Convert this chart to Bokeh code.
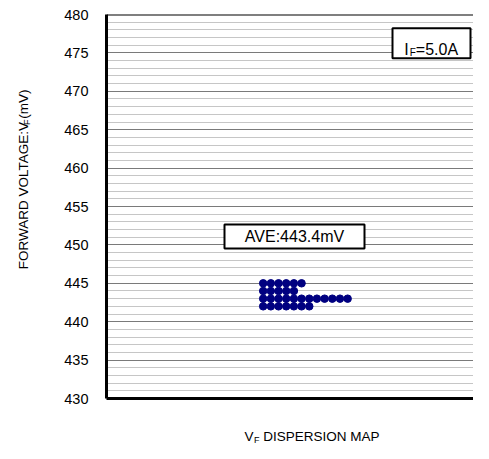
import math
from bokeh.plotting import figure
from bokeh.layouts import row, column
from bokeh.models import Label, Span, SingleIntervalTicker, FixedTicker, Range1d, ColumnDataSource
from bokeh.embed import file_html
from bokeh.resources import INLINE

# ---- data ----
voltages = [445, 444, 443, 442]          # mV rows
counts = [6, 5, 12, 7]                   # number of devices per row
y_ticks_start, y_ticks_end = 430, 480
ave_text = "AVE:443.4mV"
if_text = ["I", "F", "=5.0A"]
ylabel_parts = ["FORWARD VOLTAGE:V", "F", "(mV)"]
xlabel_parts = ["V", "F", "DISPERSION MAP"]

FONT = "Liberation Sans"

# ---- layout constants (page pixels) ----
TOTAL_W, TOTAL_H = 473, 443
YL_W = 40                 # strip holding the rotated y label
FRAME_L, FRAME_T, FRAME_B = 106, 14, 398
MAIN_H = 407
XL_H = TOTAL_H - MAIN_H
MAIN_W = TOTAL_W - YL_W
ML = FRAME_L - YL_W
scale = (FRAME_B - FRAME_T) / (y_ticks_end - y_ticks_start)   # px per unit
x_end = (TOTAL_W - FRAME_L) / scale
col0 = 20.4   # first dot column (layout offset)

def xd(px):
    return (px - FRAME_L) / scale
def yd(py):
    return y_ticks_end - (py - FRAME_T) / scale

xs, ys = [], []
for v, c in zip(voltages, counts):
    for i in range(c):
        xs.append(col0 + i)
        ys.append(v)
src = ColumnDataSource(dict(x=xs, y=ys))

p = figure(width=MAIN_W, height=MAIN_H, output_backend="svg", toolbar_location=None,
           x_range=Range1d(0, x_end), y_range=Range1d(y_ticks_start, y_ticks_end),
           min_border_left=ML, min_border_right=0, min_border_top=FRAME_T,
           min_border_bottom=MAIN_H - FRAME_B)
p.outline_line_color = None
p.background_fill_color = "white"
p.border_fill_color = "white"

tick = SingleIntervalTicker(interval=5, num_minor_ticks=5)
p.yaxis.ticker = tick
p.ygrid.ticker = tick
p.ygrid.grid_line_color = "#7a7a7a"
p.ygrid.grid_line_width = 1
p.ygrid.minor_grid_line_color = "#8c8c8c"
p.ygrid.minor_grid_line_dash = "1 1"
p.ygrid.minor_grid_line_width = 1
p.xgrid.grid_line_color = None

p.yaxis.axis_line_width = 3
p.yaxis.axis_line_color = "black"
p.yaxis.major_tick_line_color = None
p.yaxis.minor_tick_line_color = None
p.yaxis.major_label_standoff = 12
p.yaxis.major_label_text_font = FONT
p.yaxis.major_label_text_font_size = "14.5px"
p.yaxis.major_label_text_color = "black"

p.xaxis.ticker = FixedTicker(ticks=[])
p.xaxis.axis_line_width = 3
p.xaxis.axis_line_color = "black"
p.xaxis.major_tick_line_color = None
p.xaxis.minor_tick_line_color = None
p.xaxis.major_label_text_font_size = "0px"

p.add_layout(Span(location=y_ticks_end, dimension="width", line_color="black", line_width=2))

p.scatter("x", "y", source=src, size=7.5, marker="circle", fill_color="#000080", line_color="#000080")

# AVE box
p.rect(x=[xd(294)], y=[yd(236)], width=140, height=24, width_units="screen", height_units="screen",
       fill_color="white", line_color="black", line_width=2)
p.add_layout(Label(x=xd(294), y=yd(236), text=ave_text, text_align="center", text_baseline="middle",
                   text_font=FONT, text_font_size="16px", text_color="black"))

# IF box
bx = 431
p.rect(x=[xd(bx)], y=[yd(42.7)], width=78, height=30, width_units="screen", height_units="screen",
       fill_color="white", line_color="black", line_width=2)
ax, ay = xd(bx - 27.3), yd(48.5)
p.add_layout(Label(x=ax, y=ay, text=if_text[0], text_font=FONT, text_font_size="16px",
                   text_baseline="alphabetic", text_color="black"))
p.add_layout(Label(x=ax, y=ay, x_offset=5.6, y_offset=-3, text=if_text[1], text_font=FONT,
                   text_font_size="10px", text_baseline="alphabetic", text_color="black"))
p.add_layout(Label(x=ax, y=ay, x_offset=11.6, text=if_text[2], text_font=FONT,
                   text_font_size="16px", text_baseline="alphabetic", text_color="black"))

# ---- label strips (pixel coordinates, bottom origin) ----
def strip(w, h):
    f = figure(width=w, height=h, output_backend="svg", toolbar_location=None,
               x_range=Range1d(0, w), y_range=Range1d(0, h),
               x_axis_location=None, y_axis_location=None,
               min_border=0, min_border_left=0, min_border_right=0,
               min_border_top=0, min_border_bottom=0)
    f.outline_line_color = None
    f.grid.visible = False
    f.background_fill_color = "white"
    f.border_fill_color = "white"
    return f

ys_fig = strip(YL_W, MAIN_H)
yx, yy = 23, MAIN_H - 270
common = dict(angle=math.pi / 2, text_font=FONT, text_baseline="alphabetic", text_color="black")
ys_fig.add_layout(Label(x=yx, y=yy, text=ylabel_parts[0], text_font_size="13.5px", **common))
ys_fig.add_layout(Label(x=yx + 3, y=yy + 153, text=ylabel_parts[1], text_font_size="9px", **common))
ys_fig.add_layout(Label(x=yx, y=yy + 159.5, text=ylabel_parts[2], text_font_size="13.5px", **common))

xs_fig = strip(TOTAL_W, XL_H)
lx, ly = 244, TOTAL_H - 436
common2 = dict(text_font=FONT, text_baseline="alphabetic", text_color="black")
xs_fig.add_layout(Label(x=lx, y=ly, text=xlabel_parts[0], text_font_size="13.5px", **common2))
xs_fig.add_layout(Label(x=lx + 9.5, y=ly - 3, text=xlabel_parts[1], text_font_size="9px", **common2))
xs_fig.add_layout(Label(x=lx + 18.75, y=ly, text=xlabel_parts[2], text_font_size="13.5px", **common2))

layout = column(row(ys_fig, p, spacing=0), xs_fig, spacing=0)
open("out.html", "w").write(file_html(layout, INLINE))
